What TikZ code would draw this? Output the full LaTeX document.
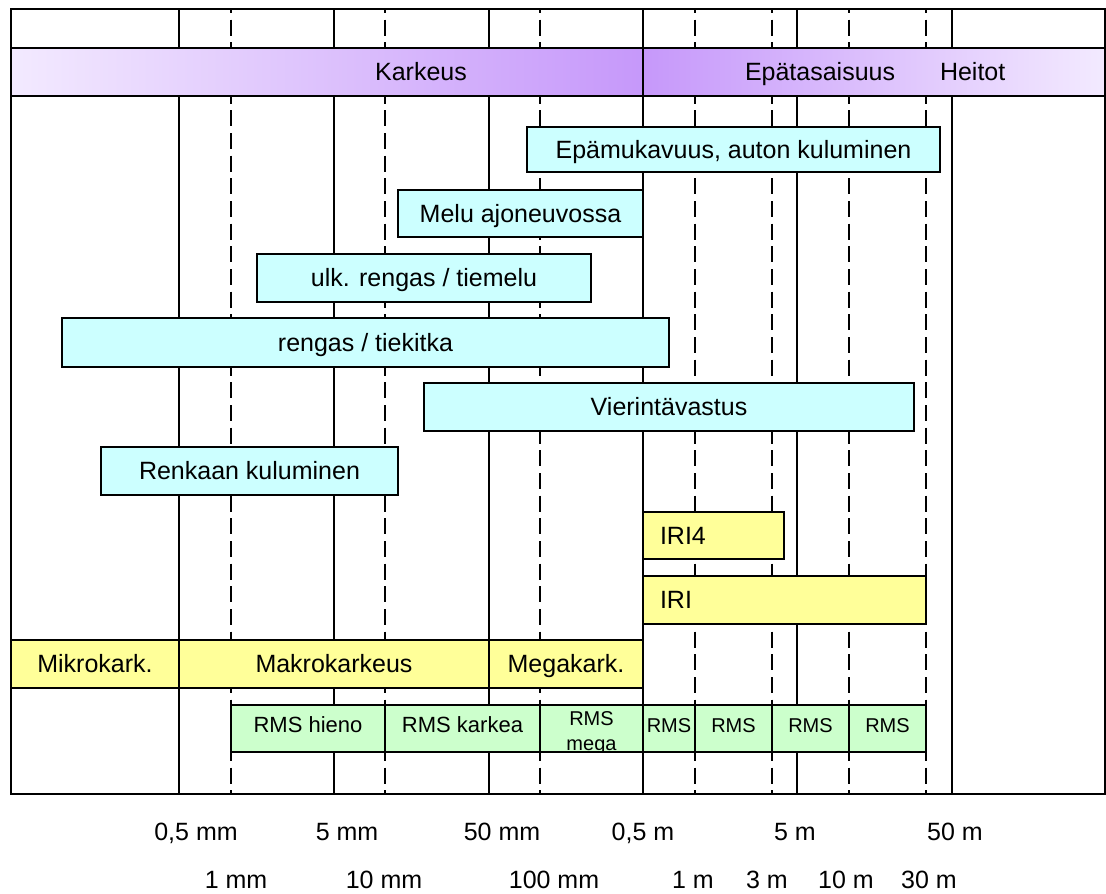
\documentclass[tikz,border=0pt]{standalone}
\usepackage{fontspec}
\setmainfont{Liberation Sans}
\definecolor{boxcyan}{RGB}{204,255,255}
\definecolor{boxyellow}{RGB}{255,255,153}
\definecolor{boxgreen}{RGB}{204,255,204}
\definecolor{bandlight}{RGB}{243,234,255}
\definecolor{bandpurple}{RGB}{198,152,250}
% box with corners (x1,y1) and (x2,y2) in pixel units
\newcommand\pxbox[7]{%
  \node[#1, minimum width={(#5-#3)*0.75pt}, minimum height={(#6-#4)*0.75pt}] (#2) at (#3,#4) {#7};}
\begin{document}
\begin{tikzpicture}[x=0.75pt,y=-0.75pt,
  every node/.style={font=\fontsize{18.75}{22}\selectfont, inner sep=0pt, outer sep=0pt,
    text height=13.4pt, text depth=0pt},
  framestyle/.style={line width=1.6pt},
  solidgrid/.style={line width=1.3pt},
  dashgrid/.style={line width=1.3pt, dash pattern=on 12pt off 5pt, dash phase=9pt},
  cellbox/.style={draw, line width=1.1pt, anchor=north west},
  cyanbox/.style={cellbox, fill=boxcyan},
  yellowbox/.style={cellbox, fill=boxyellow},
  greenbox/.style={cellbox, fill=boxgreen, font=\fontsize{15}{18.75}\selectfont,
    text height=10.7pt, text depth=5pt},
  greenwide/.style={greenbox, font=\fontsize{16.5}{20}\selectfont, text height=11.8pt, text depth=5.5pt},
  bandleft/.style={cellbox, left color=bandlight, right color=bandpurple},
  bandright/.style={cellbox, left color=bandpurple, right color=bandlight},
  axislabel/.style={anchor=center}]
\useasboundingbox (0,0) rectangle (1106,893);

% outer frame
\draw[framestyle] (11,9) rectangle (1105,794);

% scale lines: solid at decades of 0.5, dashed in between
\foreach \x in {179,334,489,643,797,952}
  \draw[solidgrid] (\x,9) -- (\x,794);
\foreach \x in {231,385,540,695,772,849,926}
  \draw[dashgrid] (\x,9) -- (\x,794);

% heading band
\pxbox{bandleft}{bandL}{11}{48}{643}{96}{}
\pxbox{bandright}{bandR}{643}{48}{1105}{96}{}
\node (karkeus) at (421,72) {Karkeus};
\node[anchor=west] (epatas) at (745,72) {Epätasaisuus};
\node[anchor=west] (heitot) at (940,72) {Heitot};

% effect ranges
\pxbox{cyanbox}{epamuk}{527}{127}{940}{172}{Epämukavuus, auton kuluminen}
\pxbox{cyanbox}{melu}{398}{190}{643}{237}{Melu ajoneuvossa}
\pxbox{cyanbox}{ulk}{257}{254}{591}{302}{ulk. rengas / tiemelu}
\pxbox{cyanbox}{kitka}{62}{318}{669}{367}{rengas / tiekitka}
\pxbox{cyanbox}{vierint}{424}{383}{914}{431}{Vierintävastus}
\pxbox{cyanbox}{renkaan}{101}{447}{398}{495}{Renkaan kuluminen}

% IRI ranges
\pxbox{yellowbox}{iri4}{643}{512}{784}{559}{}
\node[anchor=west] (iri4t) at (660,535.5) {IRI4};
\pxbox{yellowbox}{iri}{643}{576}{926}{624}{}
\node[anchor=west] (irit) at (660,600) {IRI};

% texture classes
\pxbox{yellowbox}{mikro}{11}{640}{179}{688}{Mikrokark.}
\pxbox{yellowbox}{makro}{179}{640}{489}{688}{Makrokarkeus}
\pxbox{yellowbox}{mega}{489}{640}{643}{688}{Megakark.}

% RMS bands
\pxbox{greenwide}{rmsh}{231}{705}{385}{752}{RMS hieno}
\pxbox{greenwide}{rmsk}{385}{705}{540}{752}{RMS karkea}
\pxbox{greenbox}{rmsm}{540}{705}{643}{752}{}
\begin{scope}
  \clip (541,706) rectangle (642,751);
  \node[align=center, font=\fontsize{15}{18.75}\selectfont, text height=, text depth=] (rmsmt) at (591.5,733) {RMS\\mega};
\end{scope}
\pxbox{greenbox}{rms1}{643}{705}{695}{752}{RMS}
\pxbox{greenbox}{rms2}{695}{705}{772}{752}{RMS}
\pxbox{greenbox}{rms3}{772}{705}{849}{752}{RMS}
\pxbox{greenbox}{rms4}{849}{705}{926}{752}{RMS}

% wavelength scale
\node[axislabel] (l05mm) at (196,832) {0,5 mm};
\node[axislabel] (l5mm) at (347,832) {5 mm};
\node[axislabel] (l50mm) at (502,832) {50 mm};
\node[axislabel] (l05m) at (643,832) {0,5 m};
\node[axislabel] (l5m) at (795,832) {5 m};
\node[axislabel] (l50m) at (955,832) {50 m};
\node[axislabel] (l1mm) at (236,880) {1 mm};
\node[axislabel] (l10mm) at (384,880) {10 mm};
\node[axislabel] (l100mm) at (554,880) {100 mm};
\node[axislabel] (l1m) at (693,880) {1 m};
\node[axislabel] (l3m) at (767,880) {3 m};
\node[axislabel] (l10m) at (846,880) {10 m};
\node[axislabel] (l30m) at (929,880) {30 m};
\end{tikzpicture}
\end{document}
